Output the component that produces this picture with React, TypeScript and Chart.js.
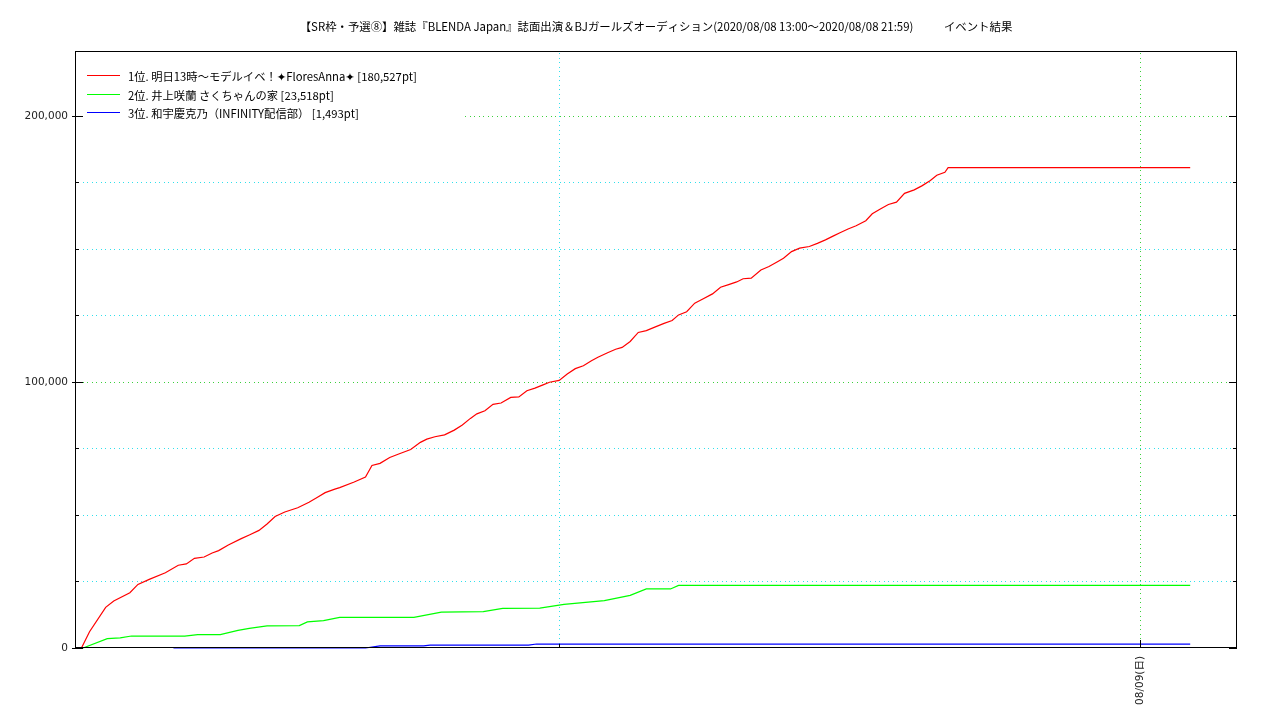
import React, { useEffect, useRef } from 'react';
import { Chart, registerables } from 'chart.js';

Chart.register(...registerables);

const TITLE =
  '【SR枠・予選⑧】雑誌『BLENDA Japan』誌面出演＆BJガールズオーディション(2020/08/08 13:00～2020/08/08 21:59)            イベント結果';

const seriesLabels = [
  '1位. 明日13時～モデルイベ！✦FloresAnna✦ [180,527pt]',
  '2位. 井上咲蘭 さくちゃんの家 [23,518pt]',
  '3位. 和宇慶克乃（INFINITY配信部） [1,493pt]',
];
const seriesColors = ['#ff0000', '#00ff00', '#0000ff'];

const redTimes = [
  '08/08 13:04', '08/08 13:09', '08/08 13:19', '08/08 13:24', '08/08 13:34', '08/08 13:39', '08/08 13:46', '08/08 13:56',
  '08/08 14:04', '08/08 14:09', '08/08 14:14', '08/08 14:20', '08/08 14:25', '08/08 14:29', '08/08 14:35', '08/08 14:43',
  '08/08 14:48', '08/08 14:54', '08/08 14:59', '08/08 15:04', '08/08 15:10', '08/08 15:18', '08/08 15:25', '08/08 15:30',
  '08/08 15:35', '08/08 15:41', '08/08 15:44', '08/08 15:53', '08/08 16:00', '08/08 16:04', '08/08 16:09', '08/08 16:15',
  '08/08 16:21', '08/08 16:28', '08/08 16:34', '08/08 16:38', '08/08 16:43', '08/08 16:49', '08/08 16:55', '08/08 17:00',
  '08/08 17:05', '08/08 17:09', '08/08 17:14', '08/08 17:19', '08/08 17:24', '08/08 17:30', '08/08 17:35', '08/08 17:40',
  '08/08 17:45', '08/08 17:50', '08/08 17:54', '08/08 18:00', '08/08 18:05', '08/08 18:10', '08/08 18:15', '08/08 18:20',
  '08/08 18:24', '08/08 18:30', '08/08 18:35', '08/08 18:39', '08/08 18:44', '08/08 18:49', '08/08 18:54', '08/08 19:00',
  '08/08 19:05', '08/08 19:10', '08/08 19:14', '08/08 19:19', '08/08 19:24', '08/08 19:29', '08/08 19:35', '08/08 19:40',
  '08/08 19:45', '08/08 19:50', '08/08 19:54', '08/08 19:59', '08/08 20:05', '08/08 20:10', '08/08 20:15', '08/08 20:19',
  '08/08 20:24', '08/08 20:29', '08/08 20:35', '08/08 20:40', '08/08 20:45', '08/08 20:50', '08/08 20:54', '08/08 20:59',
  '08/08 21:04', '08/08 21:10', '08/08 21:14', '08/08 21:19', '08/08 21:24', '08/08 21:29', '08/08 21:34', '08/08 21:40',
  '08/08 21:45', '08/08 21:50', '08/08 21:54', '08/08 21:59', '08/08 22:01', '08/09 00:31',
];
const redValues = [
  0, 6100, 15300, 17700, 20800, 23900, 25800, 28300,
  31100, 31600, 33700, 34200, 35700, 36600, 38700, 41100,
  42500, 44200, 46600, 49400, 51100, 52700, 54800, 56600,
  58400, 59700, 60300, 62400, 64300, 68600, 69400, 71600,
  73000, 74600, 77300, 78500, 79400, 80100, 81900, 83800,
  86300, 88000, 89200, 91600, 92100, 94200, 94400, 96700,
  97700, 98900, 99900, 100600, 103000, 105000, 106100, 108000,
  109300, 111000, 112300, 113000, 115200, 118600, 119300, 120800,
  122000, 123100, 125200, 126400, 129600, 131200, 133100, 135600,
  136600, 137600, 138800, 139000, 142100, 143400, 145100, 146500,
  149000, 150300, 150900, 152100, 153400, 154900, 156100, 157500,
  158700, 160600, 163200, 165000, 166700, 167600, 170900, 172200,
  173800, 175700, 177700, 178800, 180527, 180527,
];

const greenTimes = [
  '08/08 13:05', '08/08 13:20', '08/08 13:28', '08/08 13:35', '08/08 14:08', '08/08 14:16', '08/08 14:30', '08/08 14:41',
  '08/08 14:48', '08/08 14:59', '08/08 15:19', '08/08 15:24', '08/08 15:34', '08/08 15:44', '08/08 16:30', '08/08 16:47',
  '08/08 17:13', '08/08 17:25', '08/08 17:48', '08/08 18:03', '08/08 18:28', '08/08 18:44', '08/08 18:54', '08/08 19:09',
  '08/08 19:14', '08/09 00:31',
];
const greenValues = [
  0, 3500, 3800, 4500, 4500, 5000, 5000, 6600,
  7400, 8300, 8400, 9800, 10300, 11500, 11500, 13500,
  13700, 14900, 15000, 16400, 17800, 19800, 22200, 22200,
  23518, 23518,
];

const blueTimes = [
  '08/08 14:01', '08/08 16:00', '08/08 16:09', '08/08 16:36', '08/08 16:40', '08/08 17:41', '08/08 17:46', '08/09 00:31',
];
const blueValues = [0, 0, 800, 800, 1100, 1100, 1493, 1493];

const xStart = '08/08 13:00';
const xEnd = '08/09 01:00';
const xTickTimes = ['08/08 18:00', '08/09 00:00'];
const xTickLabels = ['', '08/09(日)'];
const xMajorTicks = ['08/09 00:00'];

const yMax = 224400;
const yTickValues = [0, 25000, 50000, 75000, 100000, 125000, 150000, 175000, 200000];
const yLabeledValues = [0, 100000, 200000];

const MAJOR_GRID = '#3cd03c';
const MINOR_GRID = '#30e0ec';
const LATIN_FONT = '"DejaVu Sans", "Noto Sans CJK JP", sans-serif';
const CJK_FONT = '"Noto Sans CJK JP", "DejaVu Sans", sans-serif';
const TEXT_SIZE = 11.3;

function toMin(s: string): number {
  const [d, t] = s.split(' ');
  const day = parseInt(d.split('/')[1], 10) - 8;
  const [h, m] = t.split(':').map(Number);
  return day * 1440 + h * 60 + m;
}

const series = [
  { times: redTimes, values: redValues },
  { times: greenTimes, values: greenValues },
  { times: blueTimes, values: blueValues },
];

function dottedLine(ctx: CanvasRenderingContext2D, x1: number, y1: number, x2: number, y2: number, color: string) {
  ctx.save();
  ctx.fillStyle = color;
  const step = 4.5;
  if (x1 === x2) {
    for (let y = y1; y <= y2; y += step) ctx.fillRect(Math.round(x1), Math.round(y), 1, 1);
  } else {
    for (let x = x1; x <= x2; x += step) ctx.fillRect(Math.round(x), Math.round(y1), 1, 1);
  }
  ctx.restore();
}

const decorPlugin = {
  id: 'decor',
  beforeDatasetsDraw(chart: any) {
    const { ctx, chartArea: a } = chart;
    const xs = chart.scales.x;
    const ys = chart.scales.y;
    const legendRight = 465;
    const legendBottom = 122;
    yTickValues.forEach((v) => {
      if (v === 0) return;
      const y = Math.round(ys.getPixelForValue(v));
      const color = yLabeledValues.includes(v) ? MAJOR_GRID : MINOR_GRID;
      const startX = y < legendBottom ? legendRight : a.left + 3;
      dottedLine(ctx, startX, y, a.right - 2, y, color);
    });
    xTickTimes.forEach((t) => {
      const x = Math.round(xs.getPixelForValue(toMin(t)));
      const color = xMajorTicks.includes(t) ? MAJOR_GRID : MINOR_GRID;
      dottedLine(ctx, x, a.top + 2, x, a.bottom - 2, color);
    });
  },
  afterDraw(chart: any) {
    const { ctx, chartArea: a } = chart;
    const xs = chart.scales.x;
    const ys = chart.scales.y;
    ctx.save();
    ctx.strokeStyle = '#000';
    ctx.lineWidth = 1;
    ctx.strokeRect(a.left + 0.5, a.top + 0.5, a.right - a.left - 1, a.bottom - a.top - 1);
    ctx.beginPath();
    yTickValues.forEach((v) => {
      const y = Math.round(ys.getPixelForValue(v)) + 0.5;
      const major = yLabeledValues.includes(v);
      const len = major ? 8 : 4;
      ctx.moveTo(a.left - (major ? 3 : 0), y);
      ctx.lineTo(a.left + len, y);
      ctx.moveTo(a.right, y);
      ctx.lineTo(a.right - len, y);
    });
    xTickTimes.forEach((t) => {
      const x = Math.round(xs.getPixelForValue(toMin(t))) + 0.5;
      const major = xMajorTicks.includes(t);
      const len = major ? 8 : 4;
      ctx.moveTo(x, a.bottom);
      ctx.lineTo(x, a.bottom - len);
    });
    ctx.stroke();

    // title
    ctx.fillStyle = '#000';
    ctx.font = '11.4px ' + CJK_FONT;
    ctx.textAlign = 'center';
    ctx.textBaseline = 'middle';
    ctx.fillText(TITLE, (a.left + a.right) / 2, 26.5);

    // legend
    ctx.textAlign = 'left';
    chart.data.datasets.forEach((ds: any, i: number) => {
      const y = Math.round(75 + i * 18.5);
      ctx.strokeStyle = ds.borderColor;
      ctx.lineWidth = 1.2;
      ctx.beginPath();
      ctx.moveTo(87, y + 0.5);
      ctx.lineTo(120, y + 0.5);
      ctx.stroke();
      ctx.fillStyle = '#000';
      ctx.font = TEXT_SIZE + 'px ' + CJK_FONT;
      ctx.fillText(ds.label, 128, y + 2);
    });
    ctx.restore();
  },
};

export default function App() {
  const ref = useRef<HTMLCanvasElement | null>(null);
  useEffect(() => {
    if (!ref.current) return;
    const chart = new Chart(ref.current, {
      type: 'line',
      data: {
        datasets: series.map((s, i) => ({
          label: seriesLabels[i],
          data: s.times.map((t, j) => ({ x: toMin(t), y: s.values[j] })),
          borderColor: seriesColors[i],
          backgroundColor: seriesColors[i],
          borderWidth: 1.2,
          pointRadius: 0,
          tension: 0,
          fill: false,
          clip: false,
        })),
      },
      options: {
        responsive: false,
        animation: false,
        layout: { padding: { top: 51, right: 43, left: 0, bottom: 0 } },
        plugins: {
          legend: { display: false },
          title: { display: false },
          tooltip: { enabled: false },
        },
        scales: {
          x: {
            type: 'linear',
            min: toMin(xStart),
            max: toMin(xEnd),
            afterBuildTicks: (s: any) => {
              s.ticks = xTickTimes.map((t) => ({ value: toMin(t) }));
            },
            afterFit: (s: any) => {
              s.height = 72;
            },
            ticks: {
              autoSkip: false,
              minRotation: 90,
              maxRotation: 90,
              padding: 8,
              color: '#222',
              font: { family: LATIN_FONT, size: 10.5 },
              callback: (v: any) => {
                const idx = xTickTimes.findIndex((t) => toMin(t) === v);
                return idx >= 0 ? xTickLabels[idx] : '';
              },
            },
            grid: { display: false, drawTicks: false },
            border: { display: false },
          },
          y: {
            type: 'linear',
            min: 0,
            max: yMax,
            afterBuildTicks: (s: any) => {
              s.ticks = yTickValues.map((v) => ({ value: v }));
            },
            afterFit: (s: any) => {
              s.width = 75;
            },
            ticks: {
              autoSkip: false,
              padding: 7,
              color: '#222',
              font: { family: LATIN_FONT, size: 10.5 },
              callback: (v: any) => (yLabeledValues.includes(v) ? Number(v).toLocaleString('en-US') : ''),
            },
            grid: { display: false, drawTicks: false },
            border: { display: false },
          },
        },
      },
      plugins: [decorPlugin],
    });
    return () => chart.destroy();
  }, []);

  return (
    <div style={{ position: 'fixed', left: 0, top: 0, width: 1280, height: 720, background: '#fff' }}>
      <canvas ref={ref} width={1280} height={720} style={{ width: 1280, height: 720, display: 'block' }} />
    </div>
  );
}
